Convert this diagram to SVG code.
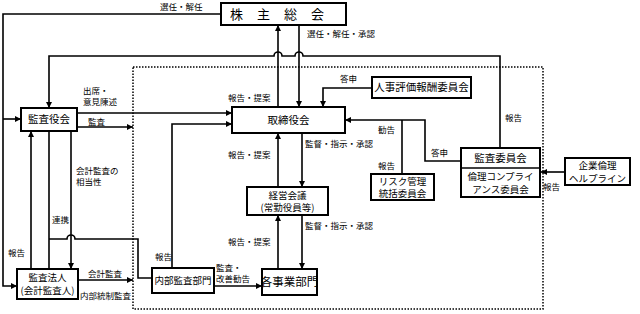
<svg xmlns="http://www.w3.org/2000/svg" width="640" height="314" viewBox="0 0 640 314">
<defs>
<marker id="ah" viewBox="0 0 8 8" refX="8" refY="4" markerWidth="6" markerHeight="6" markerUnits="userSpaceOnUse" orient="auto">
<path d="M0,0 L8,4 L0,8 z" fill="#000"/>
</marker>
<style>
.box{fill:#fff;stroke:#000;stroke-width:2}
.ln{fill:none;stroke:#000;stroke-width:1.6}
.ar{marker-end:url(#ah)}
.t{font-family:"Noto Sans CJK JP","Noto Sans",sans-serif;fill:#000}
.bt{font-size:10.5px;text-anchor:middle}
.b2{font-size:9.5px;text-anchor:middle}
.lb{font-size:8.5px}
</style>
</defs>
<rect x="133" y="67" width="410" height="242" fill="none" stroke="#000" stroke-width="1.5" stroke-dasharray="1.5,1.5"/>
<g id="connectors">
<path class="ln ar" d="M221,14 H3 V286 H17"/>
<path class="ln ar" d="M3,119 H21"/>
<path class="ln ar" d="M278,107 V25"/>
<path class="ln ar" d="M299,25 V107"/>
<path class="ln ar" d="M500,148 V56 H303 a4,4 0 0 0 -8,0 H282 a4,4 0 0 0 -8,0 H49 V108"/>
<path class="ln ar" d="M77,113 H232"/>
<path class="ln ar" d="M77,127 H133"/>
<path class="ln ar" d="M172,268 V124 H232"/>
<path class="ln ar" d="M31,269 V131"/>
<path class="ln" d="M49,131 V269"/>
<path class="ln ar" d="M71,131 V269"/>
<path class="ln" d="M49,239 H67 a4,4 0 0 1 8,0 H138 V278 H152"/>
<path class="ln ar" d="M78,280 H133"/>
<path class="ln ar" d="M214,286 H262"/>
<path class="ln ar" d="M302,133 V187"/>
<path class="ln ar" d="M278,187 V133"/>
<path class="ln ar" d="M302,215 V269"/>
<path class="ln ar" d="M278,269 V215"/>
<path class="ln ar" d="M372,88 H323 V107"/>
<path class="ln ar" d="M462,161 H425 V120 H345"/>
<path class="ln" d="M402,174 V120"/>
<path class="ln ar" d="M565,172 H541"/>
</g>
<g id="labels" class="t lb">
<text x="160" y="10">選任・解任</text>
<text x="307" y="37">選任・解任・承認</text>
<text x="83" y="94">出席・</text>
<text x="83" y="105">意見陳述</text>
<text x="340" y="82">答申</text>
<text x="228" y="101">報告・提案</text>
<text x="88" y="125">監査</text>
<text x="378" y="133">勧告</text>
<text x="505" y="121">報告</text>
<text x="431" y="156">答申</text>
<text x="228" y="158">報告・提案</text>
<text x="305" y="147">監督・指示・承認</text>
<text x="378" y="169">報告</text>
<text x="543" y="190">報告</text>
<text x="76" y="174">会計監査の</text>
<text x="76" y="185">相当性</text>
<text x="52" y="223">連携</text>
<text x="228" y="245">報告・提案</text>
<text x="305" y="229">監督・指示・承認</text>
<text x="8" y="256">報告</text>
<text x="155" y="260">報告</text>
<text x="216" y="271">監査・</text>
<text x="216" y="282">改善勧告</text>
<text x="88" y="277">会計監査</text>
<text x="80" y="299">内部統制監査</text>
</g>
<g id="n-kabunushi">
<rect class="box" x="221" y="3" width="125" height="22"/>
<text class="t" x="284" y="19" font-size="13" text-anchor="middle" letter-spacing="14">株主総会</text>
</g>
<g id="n-torishimari">
<rect class="box" x="232" y="107" width="113" height="26"/>
<text class="t bt" x="288.5" y="124">取締役会</text>
</g>
<g id="n-kansayaku">
<rect class="box" x="21" y="108" width="56" height="23"/>
<text class="t bt" x="49" y="123">監査役会</text>
</g>
<g id="n-kansahojin">
<rect class="box" x="17" y="269" width="61" height="30"/>
<text class="t b2" x="47.5" y="281">監査法人</text>
<text class="t b2" x="47.5" y="294">(会計監査人)</text>
</g>
<g id="n-naibukansa">
<rect class="box" x="152" y="268" width="62" height="25"/>
<text class="t b2" x="183" y="284">内部監査部門</text>
</g>
<g id="n-jigyobumon">
<rect class="box" x="262" y="269" width="55" height="26"/>
<text class="t" x="289.5" y="286" font-size="11.5" text-anchor="middle">各事業部門</text>
</g>
<g id="n-keieikaigi">
<rect class="box" x="247" y="187" width="81" height="28"/>
<text class="t b2" x="287.5" y="198.5">経営会議</text>
<text class="t b2" x="287.5" y="211">(常勤役員等)</text>
</g>
<g id="n-jinji">
<rect class="box" x="372" y="77" width="99" height="21"/>
<text class="t bt" x="421.5" y="91">人事評価報酬委員会</text>
</g>
<g id="n-risk">
<rect class="box" x="371" y="174" width="63" height="26"/>
<text class="t b2" x="402.5" y="184.5">リスク管理</text>
<text class="t b2" x="402.5" y="197">統括委員会</text>
</g>
<g id="n-kansaiinkai">
<rect class="box" x="461" y="148" width="79" height="49"/>
<line x1="461" y1="168" x2="540" y2="168" stroke="#000" stroke-width="1.5"/>
<text class="t bt" x="500.5" y="162">監査委員会</text>
<text class="t b2" x="500.5" y="180">倫理コンプライ</text>
<text class="t b2" x="500.5" y="193">アンス委員会</text>
</g>
<g id="n-helpline">
<rect class="box" x="565" y="158" width="65" height="27"/>
<text class="t b2" x="597.5" y="169">企業倫理</text>
<text class="t b2" x="597.5" y="181.5">ヘルプライン</text>
</g>
</svg>
